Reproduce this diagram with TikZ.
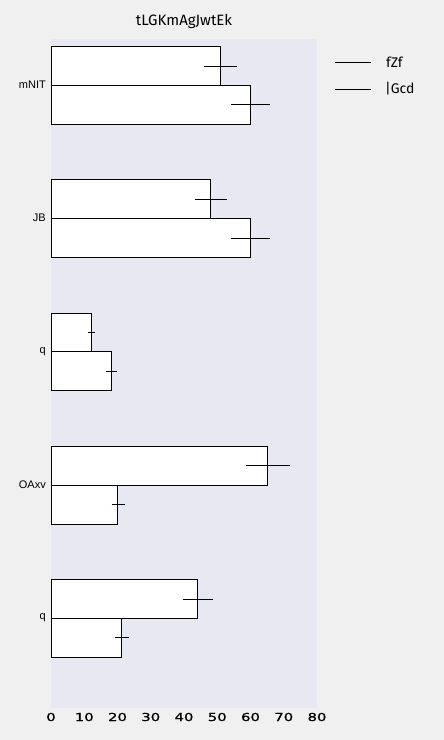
\documentclass[tikz,border=0pt]{standalone}
\usepackage{fontspec}
\setmainfont{Fira Sans}
\newfontfamily\catfont{Liberation Sans}
\newfontfamily\tickfont[FakeStretch=1.35,FakeBold=1]{DejaVu Sans}
\definecolor{outerbg}{RGB}{240,240,240}
\definecolor{plotbg}{RGB}{232,232,242}
\begin{document}
\begin{tikzpicture}[x=1pt,y=-1pt,
  barbox/.style={draw=black,fill=white,line width=0.9pt},
  errline/.style={draw=black,line width=0.8pt},
  catlabel/.style={anchor=east,inner sep=0pt,font=\catfont\fontsize{11}{12}\selectfont},
  ticklabel/.style={anchor=center,inner sep=0pt,font=\tickfont\fontsize{11}{12}\selectfont},
  legtext/.style={anchor=west,inner sep=0pt,font=\fontsize{14}{15}\selectfont}]
\useasboundingbox (0,0) rectangle (444,740);
\fill[outerbg] (0,0) rectangle (444,740);
\fill[plotbg] (51,38.5) rectangle (317,707.5);
\node[inner sep=0pt,font=\fontsize{15}{16}\selectfont] (title) at (184,21) {tLGKmAgJwtEk};
% x scale: value v -> 51 + 3.325 v
% group 1 mNIT
\draw[barbox] (51,46) rectangle (220.6,85);
\draw[barbox] (51,85) rectangle (250.5,124);
\draw[errline] (204,66) -- (237,66);
\draw[errline] (231,104) -- (270,104);
% group 2 JB
\draw[barbox] (51,179) rectangle (210.5,218);
\draw[barbox] (51,218) rectangle (250.5,257);
\draw[errline] (194.5,199) -- (226.5,199);
\draw[errline] (231,238) -- (270,238);
% group 3 q
\draw[barbox] (51,313) rectangle (91,351);
\draw[barbox] (51,351) rectangle (111,390);
\draw[errline] (87.5,332) -- (95,332);
\draw[errline] (105.5,371) -- (117,371);
% group 4 OAxv
\draw[barbox] (51,446) rectangle (267.3,485);
\draw[barbox] (51,485) rectangle (117.3,524);
\draw[errline] (245.5,465.5) -- (289.5,465.5);
\draw[errline] (111.5,504.5) -- (124.5,504.5);
% group 5 q
\draw[barbox] (51,579) rectangle (197.3,618);
\draw[barbox] (51,618) rectangle (121.3,657);
\draw[errline] (182.5,599) -- (212.5,599);
\draw[errline] (114.5,637.5) -- (128.5,637.5);
% category labels
\node[catlabel] (c1) at (46,84.5) {mNIT};
\node[catlabel] (c2) at (46,217.5) {JB};
\node[catlabel] (c3) at (46,351.5) {q};
\node[catlabel] (c4) at (46,484.5) {OAxv};
\node[catlabel] (c5) at (46,618) {q};
% ticks
\foreach \v [count=\i] in {0,10,...,80}{
  \node[ticklabel] (t\i) at ({51+3.325*\v},717) {\v};
}
% legend
\coordinate (l1a) at (335,62);
\coordinate (l1b) at (371,62);
\coordinate (l2a) at (335,89);
\coordinate (l2b) at (371,89);
\draw[errline] (l1a) -- (l1b);
\draw[errline] (l2a) -- (l2b);
\node[legtext] (lg1) at (386,62) {fZf};
\node[legtext] (lg2) at (385,89) {|Gcd};
\end{tikzpicture}
\end{document}
